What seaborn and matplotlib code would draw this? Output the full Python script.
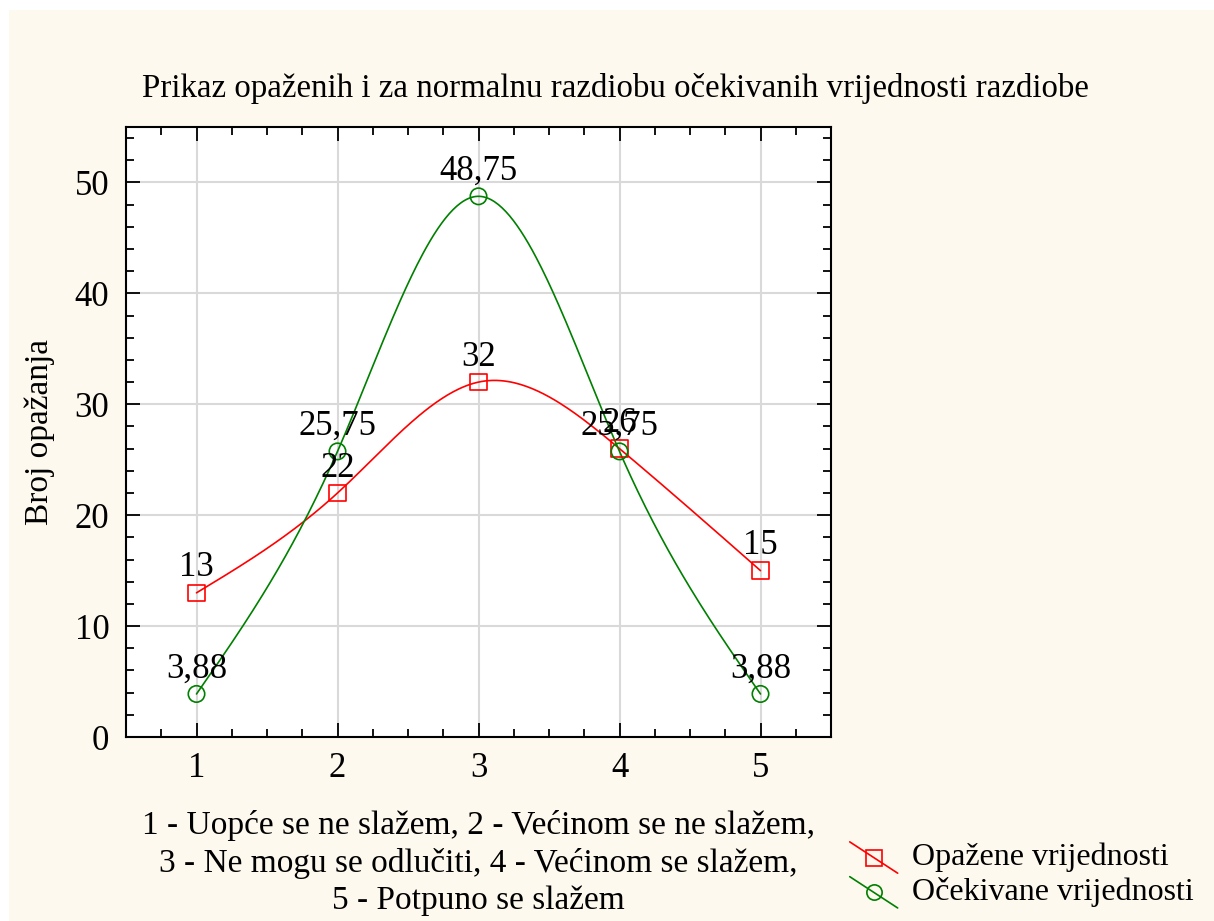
import numpy as np
import pandas as pd
import matplotlib
matplotlib.use("Agg")
from matplotlib import pyplot as plt
from matplotlib.lines import Line2D
from matplotlib.legend_handler import HandlerLine2D
from matplotlib.patches import Rectangle
from matplotlib.ticker import MultipleLocator
import seaborn as sns

# podaci
kategorije = [1, 2, 3, 4, 5]
opazene = [13, 22, 32, 26, 15]
ocekivane = [3.88, 25.75, 48.75, 25.75, 3.88]
naslov = "Prikaz opaženih i za normalnu razdiobu očekivanih vrijednosti razdiobe"
opis_x = ("1 - Uopće se ne slažem, 2 - Većinom se ne slažem,\n"
          "3 - Ne mogu se odlučiti, 4 - Većinom se slažem,\n"
          "5 - Potpuno se slažem")
opis_y = "Broj opažanja"
legenda = ["Opažene vrijednosti", "Očekivane vrijednosti"]

sns.set_theme(style="white")
plt.rcParams['font.family'] = ['Liberation Serif', 'DejaVu Serif']
plt.rcParams['text.color'] = 'black'
plt.rcParams['axes.labelcolor'] = 'black'
plt.rcParams['xtick.color'] = 'black'
plt.rcParams['ytick.color'] = 'black'


def spline(x, y, n=300):
    # prirodni kubni spline - samo za glatku liniju kroz tocke
    x = np.asarray(x, float)
    y = np.asarray(y, float)
    k = len(x)
    h = np.diff(x)
    A = np.zeros((k, k))
    b = np.zeros(k)
    A[0, 0] = A[-1, -1] = 1
    for i in range(1, k - 1):
        A[i, i - 1] = h[i - 1]
        A[i, i] = 2 * (h[i - 1] + h[i])
        A[i, i + 1] = h[i]
        b[i] = 6 * ((y[i + 1] - y[i]) / h[i] - (y[i] - y[i - 1]) / h[i - 1])
    M = np.linalg.solve(A, b)
    xs = np.linspace(x[0], x[-1], n)
    idx = np.clip(np.searchsorted(x, xs) - 1, 0, k - 2)
    x0, x1 = x[idx], x[idx + 1]
    hh = x1 - x0
    ys = (M[idx] * (x1 - xs) ** 3 / (6 * hh) + M[idx + 1] * (xs - x0) ** 3 / (6 * hh)
          + (y[idx] / hh - M[idx] * hh / 6) * (x1 - xs)
          + (y[idx + 1] / hh - M[idx + 1] * hh / 6) * (xs - x0))
    return xs, ys


class KosiHandler(HandlerLine2D):
    # kosa linija u legendi kao u Statistici
    def create_artists(self, legend, orig_handle, xdescent, ydescent, width, height, fontsize, trans):
        x0, x1 = -xdescent, -xdescent + width
        y0, y1 = height * 1.05 - ydescent, -height * 0.35 - ydescent
        line = Line2D([x0, x1], [y0, y1], color=orig_handle.get_color(), lw=1.2)
        mark = Line2D([(x0 + x1) / 2], [(y0 + y1) / 2], linestyle='none',
                      marker=orig_handle.get_marker(), markersize=orig_handle.get_markersize(),
                      markerfacecolor='none', markeredgecolor=orig_handle.get_color(),
                      markeredgewidth=1.2)
        line.set_transform(trans)
        mark.set_transform(trans)
        return [line, mark]


fig = plt.figure(figsize=(12.14, 9.21), dpi=100, facecolor='white')
fig.patches.append(Rectangle((9 / 1214, 0), 1, 1 - 10 / 921, transform=fig.transFigure,
                             facecolor='#fdf9ee', edgecolor='none', zorder=-10))
ax = fig.add_axes([126 / 1214, 1 - 737 / 921, 705 / 1214, 610 / 921])
ax.set_facecolor('white')

boje = ['#ff0000', '#008000']
markeri = ['s', 'o']
serije = [opazene, ocekivane]

for vals, c, m in zip(serije, boje, markeri):
    xs, ys = spline(kategorije, vals)
    sns.lineplot(x=xs, y=ys, color=c, lw=1.2, ax=ax, sort=False, zorder=3)
    sns.scatterplot(x=kategorije, y=vals, marker=m, s=140, facecolor='none',
                    edgecolor=c, linewidth=1.2, ax=ax, zorder=4)
    for xv, yv in zip(kategorije, vals):
        txt = ('%g' % yv).replace('.', ',')
        ax.annotate(txt, (xv, yv), xytext=(0, 6), textcoords='offset points',
                    ha='center', va='bottom', fontsize=25, zorder=5)

ax.set_xlim(0.5, 5.5)
ax.set_ylim(0, 55)
ax.xaxis.set_major_locator(MultipleLocator(1))
ax.xaxis.set_minor_locator(MultipleLocator(0.25))
ax.yaxis.set_major_locator(MultipleLocator(10))
ax.yaxis.set_minor_locator(MultipleLocator(2))
ax.grid(True, which='major', color='#d9d9d9', lw=1.5, zorder=0)
ax.set_axisbelow(True)
ax.tick_params(which='both', direction='in', top=True, right=True, bottom=True, left=True,
               color='black', width=1.3)
ax.tick_params(which='major', length=10, labelsize=25)
ax.tick_params(which='minor', length=6)
ax.tick_params(axis='x', which='major', pad=11)
ax.tick_params(axis='y', which='major', pad=12)
for s in ax.spines.values():
    s.set_color('black')
    s.set_linewidth(1.5)

ax.set_xlabel(opis_x, fontsize=24, labelpad=18, linespacing=1.28)
ax.set_ylabel(opis_y, fontsize=24, labelpad=14)
fig.text(615 / 1214, 1 - 88 / 921, naslov, ha='center', va='center', fontsize=23.7)

handles = [Line2D([], [], color=c, marker=m, markersize=11, markerfacecolor='none')
           for c, m in zip(boje, markeri)]
fig.legend(handles, legenda, loc='center left', bbox_to_anchor=(821 / 1214, 1 - 875 / 921),
           frameon=False, fontsize=23, handlelength=1.5, handletextpad=0.45, labelspacing=0.15,
           handler_map={Line2D: KosiHandler()})

fig.savefig('out.png', dpi=100, facecolor=fig.get_facecolor())
